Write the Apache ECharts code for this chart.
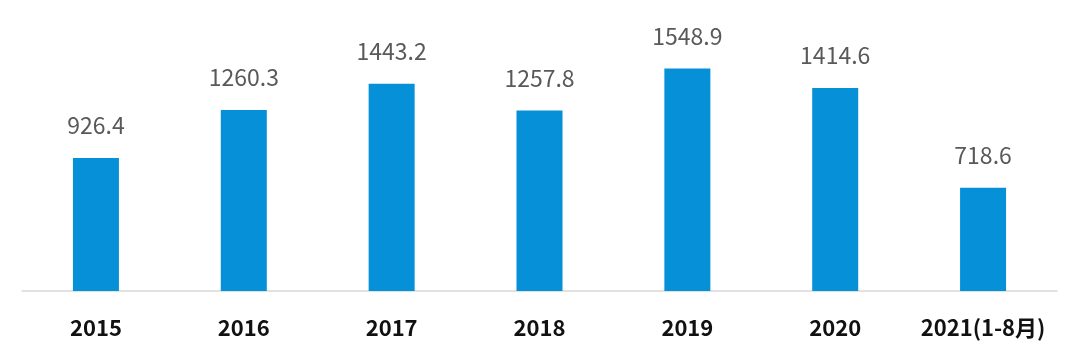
<!DOCTYPE html>
<html><head><meta charset="utf-8">
<script src="https://cdn.jsdelivr.net/npm/echarts@6/dist/echarts.min.js"></script>
<style>html,body{margin:0;padding:0;background:#fff}#c{width:1080px;height:361px}</style>
</head><body><div id="c"></div>
<script>
const categories = ['2015','2016','2017','2018','2019','2020','2021(1-8月)'];
const values = [926.4, 1260.3, 1443.2, 1257.8, 1548.9, 1414.6, 718.6];
const chart = echarts.init(document.getElementById('c'));
chart.setOption({
  animation:false,
  grid:{left:22,right:23,top:11,bottom:70},
  xAxis:{type:'category',data:categories,
    axisLine:{lineStyle:{color:'#d9d9d9',width:1.5}},axisTick:{show:false},
    axisLabel:{interval:0,margin:26,color:'#111',fontSize:22,fontWeight:'bold',fontFamily:'Noto Sans CJK SC'}},
  yAxis:{type:'value',min:0,max:1950,show:false,splitLine:{show:false}},
  series:[{type:'bar',data:values,barWidth:46,itemStyle:{color:'#0590d8'},
    label:{show:true,position:'top',distance:21,color:'#595959',fontSize:23,fontFamily:'Noto Sans CJK SC'}}]
});
</script></body></html>
